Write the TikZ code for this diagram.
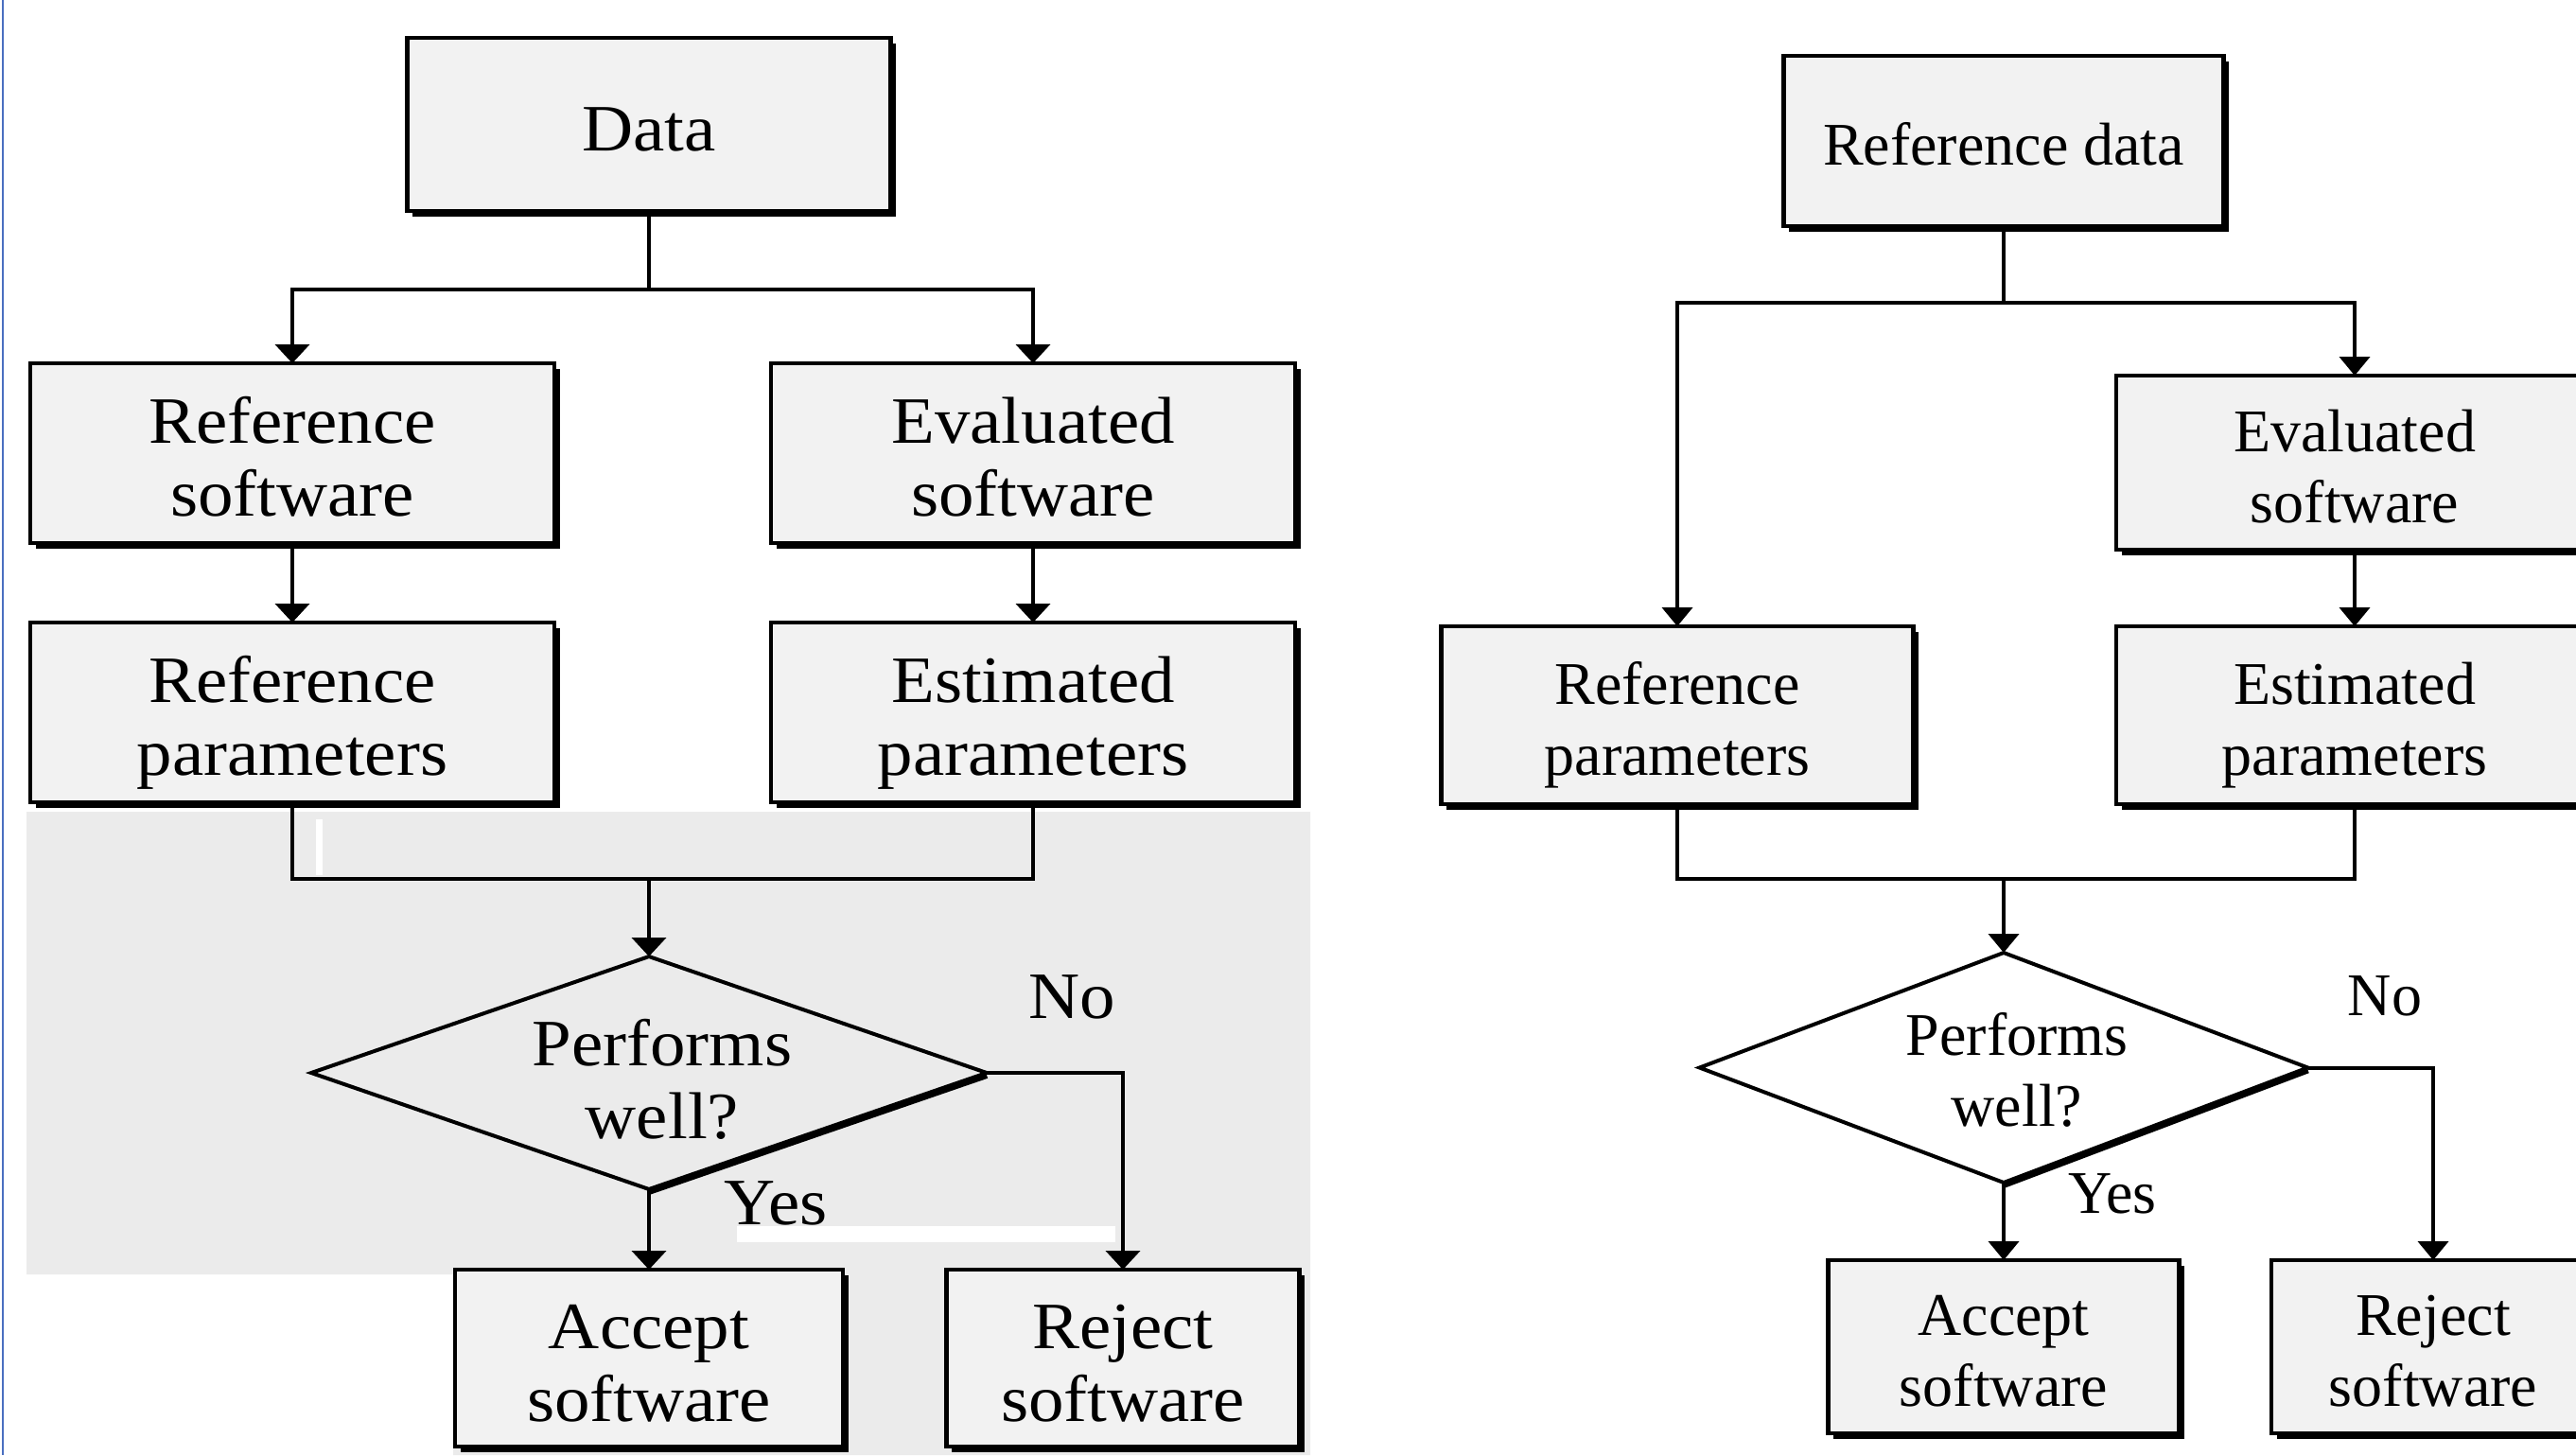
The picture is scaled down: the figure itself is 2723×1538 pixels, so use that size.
\documentclass[tikz,border=0pt]{standalone}
\usepackage{fontspec}
\setmainfont{Liberation Serif}
\newfontfamily\lfont[FakeStretch=1.07]{Liberation Serif}
\newfontfamily\rfont{Liberation Serif}
\usetikzlibrary{arrows.meta,shapes.geometric,shadows}
\definecolor{boxfill}{HTML}{F2F2F2}
\definecolor{graybg}{HTML}{EBEBEB}
\definecolor{blueline}{HTML}{4A6FC0}
\newcommand\myTop{\rule{0pt}{1.1em}}
\newcommand\myBot{\rule[-0.3em]{0pt}{0.3em}}
\begin{document}
\begin{tikzpicture}[x=0.5pt,y=-0.5pt,
  every node/.style={inner sep=0pt, outer sep=0pt},
  fontL/.style={font=\lfont\fontsize{35pt}{38.5pt}\selectfont},
  fontR/.style={font=\rfont\fontsize{32pt}{37.5pt}\selectfont},
  boxbase/.style={draw, line width=2.3pt, fill=boxfill, align=center,
    drop shadow={shadow xshift=2.8pt, shadow yshift=-2.8pt, fill=black, opacity=1}},
  boxL/.style={boxbase, fontL},
  boxR/.style={boxbase, fontR},
  decision/.style={diamond, draw, line width=2pt, aspect=2.9},
  ln/.style={line width=2pt},
  arrL/.style={ln, -{Triangle[width=18pt,length=10pt]}},
  arrR/.style={ln, -{Triangle[width=16pt,length=10pt]}},
  labL/.style={fontL, anchor=base},
  labR/.style={fontR, anchor=base},
  dtextL/.style={fontL, align=center},
  dtextR/.style={fontR, align=center}
]
\clip (0,0) rectangle (2723,1538);
\fill[white] (0,0) rectangle (2723,1538);
% gray background of the left panel
\fill[graybg] (28,858) -- (1385,858) -- (1385,1538) -- (479,1538) -- (479,1347) -- (28,1347) -- cycle;
\fill[white] (334,866) rectangle (341,925);
\fill[white] (779,1296) rectangle (1179,1313);
\draw[blueline, line width=0.6pt] (3,0) -- (3,1538);

% ---------------- left diagram ----------------
\node[boxL, minimum width=255.5pt, minimum height=91.5pt] (data) at (686,131.5) {\myTop Data\myBot};
\node[boxL, minimum width=277pt, minimum height=95pt] (refsw) at (309,479) {\myTop Reference\\software\myBot};
\node[boxL, minimum width=277pt, minimum height=95pt] (evalsw) at (1092,479) {\myTop Evaluated\\software\myBot};
\node[boxL, minimum width=277pt, minimum height=95pt] (refpar) at (309,753) {\myTop Reference\\parameters\myBot};
\node[boxL, minimum width=277pt, minimum height=95pt] (estpar) at (1092,753) {\myTop Estimated\\parameters\myBot};
\node[decision, minimum width=357pt, minimum height=123pt] (dL) at (686,1134) {};
\draw[line width=3.5pt] ([yshift=-1.2pt]dL.east) -- ([yshift=-1.2pt]dL.south);
\node[dtextL] (tL) at (700,1137) {\myTop Performs\\well?\myBot};
\node[boxL, minimum width=205pt, minimum height=93.5pt] (accL) at (686,1435.5) {\myTop Accept\\software\myBot};
\node[boxL, minimum width=186.5pt, minimum height=93.5pt] (rejL) at (1187,1435.5) {\myTop Reject\\software\myBot};
\node[labL] (noL) at (1133,1076) {No};
\node[labL] (yesL) at (820,1294) {Yes};

\coordinate (bL) at (686,306);
\coordinate (jL) at (686,929);
\draw[ln] (data.south) -- (bL);
\draw[arrL] (bL) -| (refsw.north);
\draw[arrL] (bL) -| (evalsw.north);
\draw[arrL] (refsw.south) -- (refpar.north);
\draw[arrL] (evalsw.south) -- (estpar.north);
\draw[ln] (refpar.south) |- (jL) -| (estpar.south);
\draw[arrL] (jL) -- (dL.north);
\draw[arrL] (dL.south) -- (accL.north);
\draw[arrL] (dL.east) -| (rejL.north);

% ---------------- right diagram ----------------
\node[boxR, minimum width=232.5pt, minimum height=90pt] (rdata) at (2118,149) {\myTop Reference data\myBot};
\node[boxR, minimum width=252pt, minimum height=92pt] (revsw) at (2489,489) {\myTop Evaluated\\software\myBot};
\node[boxR, minimum width=249.5pt, minimum height=94pt] (rrefpar) at (1773,756) {\myTop Reference\\parameters\myBot};
\node[boxR, minimum width=252pt, minimum height=94pt] (restpar) at (2489,756) {\myTop Estimated\\parameters\myBot};
\node[decision, fill=white, minimum width=321.5pt, minimum height=121.5pt] (dR) at (2118,1128.5) {};
\draw[line width=3.5pt] ([yshift=-1.2pt]dR.east) -- ([yshift=-1.2pt]dR.south);
\node[dtextR] (tR) at (2132,1127) {\myTop Performs\\well?\myBot};
\node[boxR, minimum width=185.5pt, minimum height=91.5pt] (accR) at (2118,1423.5) {\myTop Accept\\software\myBot};
\node[boxR, minimum width=171pt, minimum height=91.5pt] (rejR) at (2572,1423.5) {\myTop Reject\\software\myBot};
\node[labR] (noR) at (2521,1073) {No};
\node[labR] (yesR) at (2233,1282) {Yes};

\coordinate (bR) at (2118,320);
\coordinate (jR) at (2118,929);
\draw[ln] (rdata.south) -- (bR);
\draw[arrR] (bR) -| (rrefpar.north);
\draw[arrR] (bR) -| (revsw.north);
\draw[arrR] (revsw.south) -- (restpar.north);
\draw[ln] (rrefpar.south) |- (jR) -| (restpar.south);
\draw[arrR] (jR) -- (dR.north);
\draw[arrR] (dR.south) -- (accR.north);
\draw[arrR] (dR.east) -| (rejR.north);
\end{tikzpicture}
\end{document}
